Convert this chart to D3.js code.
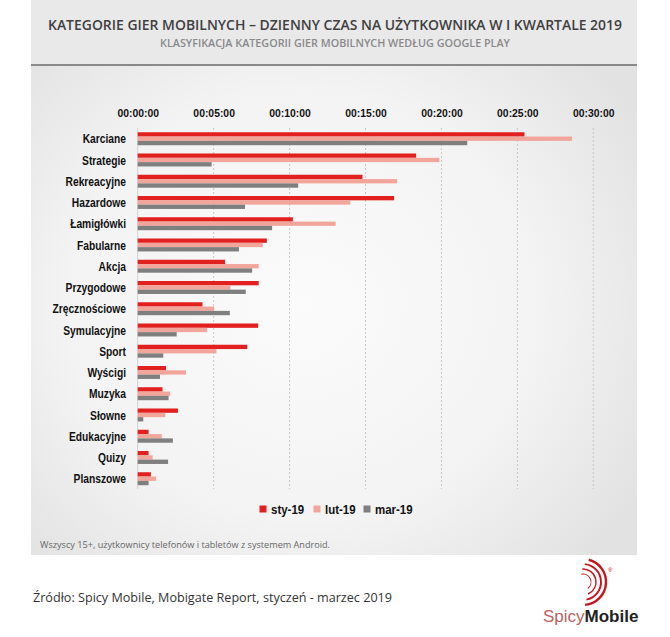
<!DOCTYPE html>
<html><head><meta charset="utf-8">
<script src="https://cdn.jsdelivr.net/npm/d3@7"></script>
<style>
html,body{margin:0;padding:0;background:#fff;}
svg{display:block;}
</style></head>
<body>
<svg id="c" width="670" height="637"></svg>
<script>
const categories = ["Karciane","Strategie","Rekreacyjne","Hazardowe","Łamigłówki","Fabularne","Akcja","Przygodowe","Zręcznościowe","Symulacyjne","Sport","Wyścigi","Muzyka","Słowne","Edukacyjne","Quizy","Planszowe"];
const seriesNames = ["sty-19","lut-19","mar-19"];
const seriesColors = ["#e1201f","#f2a59b","#7f7f7f"];
// daily time per user, in seconds
const sty19 = [1528,1100,888,1013,613,510,345,478,256,476,433,112,98,159,43,43,52];
const lut19 = [1716,1192,1025,840,782,494,478,366,302,274,311,191,128,109,95,59,73];
const mar19 = [1302,292,634,424,531,400,452,427,364,154,101,88,122,22,139,120,43];
const tickValues = [0,300,600,900,1200,1500,1800];
const tickLabels = ["00:00:00","00:05:00","00:10:00","00:15:00","00:20:00","00:25:00","00:30:00"];

const title = "KATEGORIE GIER MOBILNYCH – DZIENNY CZAS NA UŻYTKOWNIKA W I KWARTALE 2019";
const subtitle = "KLASYFIKACJA KATEGORII GIER MOBILNYCH WEDŁUG GOOGLE PLAY";
const footnote = "Wszyscy 15+, użytkownicy telefonów i tabletów z systemem Android.";
const source = "Źródło: Spicy Mobile, Mobigate Report, styczeń - marzec 2019";

const series = [sty19, lut19, mar19];
const svg = d3.select("#c");
const narrow = "'Liberation Sans',Arial,sans-serif";

// background panel
const defs = svg.append("defs");
const rg = defs.append("radialGradient").attr("id","bg")
  .attr("cx","45%").attr("cy","55%").attr("r","65%");
rg.append("stop").attr("offset","0%").attr("stop-color","#fbfbfb");
rg.append("stop").attr("offset","60%").attr("stop-color","#f3f3f3");
rg.append("stop").attr("offset","100%").attr("stop-color","#e2e2e3");
svg.append("rect").attr("x",31).attr("y",0).attr("width",606).attr("height",555).attr("fill","url(#bg)");
svg.append("rect").attr("x",31).attr("y",0).attr("width",606).attr("height",65).attr("fill","#e9e9ea");
svg.append("line").attr("x1",31).attr("x2",637).attr("y1",65).attr("y2",65)
  .attr("stroke","#8a8a8a").attr("stroke-width",2);

svg.append("text").attr("x",335).attr("y",30).attr("text-anchor","middle")
  .attr("font-family","'Open Sans',sans-serif").attr("font-weight","600").attr("font-size",14.5)
  .attr("fill","#404040").attr("textLength",574).attr("lengthAdjust","spacingAndGlyphs").text(title);
svg.append("text").attr("x",335).attr("y",47).attr("text-anchor","middle")
  .attr("font-family","'Open Sans',sans-serif").attr("font-weight","600").attr("font-size",10)
  .attr("fill","#8a8a8a").attr("textLength",350).attr("lengthAdjust","spacingAndGlyphs").text(subtitle);

// scales
const x = d3.scaleLinear().domain([0,1800]).range([137.7,593.3]);
const y = d3.scaleBand().domain(categories).range([128.1,489.35]).paddingInner(0.39).paddingOuter(0.195);
const ys = d3.scaleBand().domain(seriesNames).range([0,y.bandwidth()]).padding(0);

// gridlines
const g = svg.append("g");
g.selectAll("line.grid").data(tickValues.slice(1)).join("line")
  .attr("x1",d=>x(d)).attr("x2",d=>x(d)).attr("y1",128).attr("y2",489)
  .attr("stroke","#bdbdbd").attr("stroke-width",0.8).attr("stroke-dasharray","2,2");
g.append("line").attr("x1",x(0)).attr("x2",x(0)).attr("y1",128).attr("y2",489)
  .attr("stroke","#d0d0d0").attr("stroke-width",1);

// top axis
const axis = d3.axisTop(x).tickValues(tickValues).tickFormat((d,i)=>tickLabels[i]).tickSize(0).tickPadding(0);
const ag = svg.append("g").attr("transform","translate(0,117)").call(axis);
ag.select(".domain").remove();
ag.selectAll("text").attr("font-family",narrow).attr("font-weight","bold").attr("font-size",11.8).attr("fill","#111")
  .attr("transform","scale(0.88,1)");

// category axis
const cax = d3.axisLeft(y).tickSize(0).tickPadding(0);
const cg = svg.append("g").attr("transform","translate(126,0)").call(cax);
cg.select(".domain").remove();
cg.selectAll("text").attr("font-family",narrow).attr("font-weight","bold").attr("font-size",13).attr("fill","#111").attr("dy","0.35em")
  .attr("transform","scale(0.79,1)");

// bars
series.forEach((vals,si)=>{
  svg.append("g").selectAll("rect").data(categories).join("rect")
    .attr("x",x(0)).attr("y",d=>y(d)+ys(seriesNames[si]))
    .attr("width",(d,i)=>x(vals[i])-x(0)).attr("height",ys.bandwidth())
    .attr("fill",seriesColors[si]);
});

// legend
const legX = [263,317,367];
const lg = svg.append("g");
seriesNames.forEach((n,i)=>{
  lg.append("rect").attr("x",legX[i]-3.5).attr("y",505.5).attr("width",7).attr("height",7).attr("fill",seriesColors[i]);
  lg.append("text").attr("transform",`translate(${legX[i]+8},514) scale(0.85,1)`).attr("font-family",narrow).attr("font-weight","bold")
    .attr("font-size",13.5).attr("fill","#111").text(n);
});

svg.append("text").attr("x",40).attr("y",548).attr("font-family","'Open Sans',sans-serif").attr("font-size",8.5)
  .attr("fill","#666").attr("textLength",290).attr("lengthAdjust","spacingAndGlyphs").text(footnote);

svg.append("text").attr("x",33).attr("y",602).attr("font-family","'Open Sans',sans-serif").attr("font-size",12.5)
  .attr("fill","#333").attr("textLength",359).attr("lengthAdjust","spacingAndGlyphs").text(source);

// logo
const logo = svg.append("g");
const cx = 583, cy = 582;
const arcs = [{r:8,w:1.0,a0:-0.2,a1:2.5},{r:13,w:1.4,a0:-0.05,a1:2.75},{r:18,w:1.9,a0:0.1,a1:2.95},{r:23,w:2.4,a0:0.25,a1:3.05}];
const arcGen = d3.arc();
arcs.forEach(a=>{
  logo.append("path").attr("transform",`translate(${cx},${cy})`)
    .attr("d",arcGen({innerRadius:a.r-a.w/2,outerRadius:a.r+a.w/2,startAngle:a.a0,endAngle:a.a1}))
    .attr("fill","#c8141c");
});
logo.append("text").attr("x",608).attr("y",572).attr("font-size",6).attr("fill","#c00").attr("font-family","sans-serif").text("®");
const lt = logo.append("text").attr("x",543).attr("y",622).attr("font-family","'Liberation Sans',Arial,sans-serif").attr("font-size",17);
lt.append("tspan").attr("fill","#c0605c").attr("font-weight","normal").text("Spicy");
lt.append("tspan").attr("fill","#222").attr("font-weight","bold").text("Mobile");
</script>
</body></html>
